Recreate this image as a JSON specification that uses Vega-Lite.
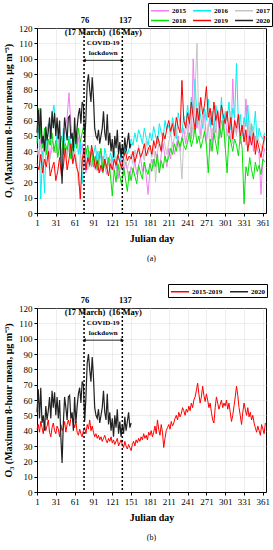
{
"$schema": "https://vega.github.io/schema/vega-lite/v6.json",
"padding": {"left": 3, "top": 2, "right": 0, "bottom": 0},
"spacing": 19,
"config": {
 "font": "Liberation Serif",
 "view": {"stroke": "black", "strokeWidth": 1},
 "axis": {"labelFont": "Liberation Serif", "labelFontSize": 9, "labelColor": "black", "labelOverlap": false, "labelFlush": false, "tickCount": 20, "titleFont": "Liberation Serif", "titleFontSize": 10, "titleFontWeight": "bold", "titleColor": "black", "domainColor": "black", "tickColor": "black", "tickSize": 3, "gridColor": "#c8c8c8", "gridDash": [1, 1], "gridWidth": 0.6},
 "title": {"font": "Liberation Serif", "fontSize": 8, "fontWeight": "normal", "color": "black", "orient": "bottom", "offset": 12},
 "legend": {"title": null, "orient": "none", "direction": "horizontal", "symbolType": "M-1,0H3", "symbolSize": 81, "symbolStrokeWidth": 1.5, "labelOffset": 11, "labelFont": "Liberation Serif", "labelFontSize": 7, "labelFontWeight": "bold", "labelColor": "black", "strokeColor": "black", "fillColor": "white", "padding": 2, "columnPadding": 4, "rowPadding": 1}
},
"datasets": {
 "lock": [{"day": 76, "label": "76\n(17 March)"}, {"day": 137, "label": "137\n(16 May)"}],
 "span": [{"start": 76, "end": 137, "label": "COVID-19\nlockdown"}],
 "years": [
{"day":1,"2015":42,"2016":48,"2017":40,"2018":45,"2019":32},
{"day":4,"2015":38,"2016":55,"2017":36,"2018":68,"2019":28},
{"day":7,"2015":48,"2016":9,"2017":45,"2018":50,"2019":38},
{"day":10,"2015":35,"2016":40,"2017":33,"2018":42,"2019":26},
{"day":13,"2015":45,"2016":13,"2017":42,"2018":55,"2019":35},
{"day":16,"2015":52,"2016":50,"2017":38,"2018":38,"2019":30},
{"day":19,"2015":40,"2016":58,"2017":47,"2018":48,"2019":40},
{"day":22,"2015":36,"2016":44,"2017":35,"2018":44,"2019":24},
{"day":25,"2015":47,"2016":62,"2017":43,"2018":52,"2019":29},
{"day":28,"2015":43,"2016":70,"2017":39,"2018":40,"2019":33},
{"day":31,"2015":39,"2016":52,"2017":44,"2018":47,"2019":21},
{"day":34,"2015":50,"2016":40,"2017":37,"2018":36,"2019":27},
{"day":37,"2015":44,"2016":48,"2017":49,"2018":43,"2019":36},
{"day":40,"2015":36,"2016":35,"2017":34,"2018":50,"2019":24},
{"day":43,"2015":48,"2016":55,"2017":41,"2018":38,"2019":30},
{"day":46,"2015":55,"2016":42,"2017":46,"2018":45,"2019":42},
{"day":49,"2015":62,"2016":38,"2017":36,"2018":41,"2019":28},
{"day":52,"2015":78,"2016":50,"2017":43,"2018":48,"2019":35},
{"day":55,"2015":58,"2016":45,"2017":38,"2018":35,"2019":45},
{"day":58,"2015":46,"2016":36,"2017":32,"2018":44,"2019":32},
{"day":61,"2015":52,"2016":44,"2017":41,"2018":50,"2019":38},
{"day":64,"2015":44,"2016":52,"2017":35,"2018":42,"2019":30},
{"day":67,"2015":49,"2016":38,"2017":18,"2018":55,"2019":26},
{"day":70,"2015":38,"2016":47,"2017":38,"2018":46,"2019":9},
{"day":73,"2015":45,"2016":19,"2017":30,"2018":52,"2019":34},
{"day":76,"2015":34,"2016":36,"2017":42,"2018":58,"2019":42},
{"day":79,"2015":26,"2016":42,"2017":34,"2018":38,"2019":28},
{"day":82,"2015":38,"2016":33,"2017":28,"2018":44,"2019":36},
{"day":85,"2015":30,"2016":40,"2017":37,"2018":33,"2019":31},
{"day":88,"2015":42,"2016":30,"2017":33,"2018":40,"2019":44},
{"day":91,"2015":35,"2016":38,"2017":30,"2018":30,"2019":37},
{"day":94,"2015":28,"2016":44,"2017":36,"2018":37,"2019":29},
{"day":97,"2015":40,"2016":32,"2017":27,"2018":28,"2019":34},
{"day":100,"2015":33,"2016":40,"2017":34,"2018":35,"2019":26},
{"day":103,"2015":27,"2016":35,"2017":40,"2018":42,"2019":31},
{"day":106,"2015":37,"2016":28,"2017":29,"2018":26,"2019":27},
{"day":109,"2015":31,"2016":42,"2017":33,"2018":33,"2019":35},
{"day":112,"2015":25,"2016":36,"2017":38,"2018":29,"2019":30},
{"day":115,"2015":34,"2016":31,"2017":31,"2018":36,"2019":24},
{"day":118,"2015":29,"2016":39,"2017":35,"2018":25,"2019":32},
{"day":121,"2015":36,"2016":34,"2017":28,"2018":11,"2019":28},
{"day":124,"2015":27,"2016":40,"2017":33,"2018":28,"2019":35},
{"day":127,"2015":32,"2016":30,"2017":37,"2018":20,"2019":31},
{"day":130,"2015":22,"2016":37,"2017":30,"2018":32,"2019":38},
{"day":133,"2015":30,"2016":33,"2017":26,"2018":24,"2019":33},
{"day":136,"2015":38,"2016":42,"2017":34,"2018":18,"2019":29},
{"day":139,"2015":24,"2016":36,"2017":31,"2018":30,"2019":36},
{"day":142,"2015":33,"2016":45,"2017":36,"2018":22,"2019":40},
{"day":145,"2015":28,"2016":38,"2017":29,"2018":14,"2019":34},
{"day":148,"2015":21,"2016":42,"2017":33,"2018":27,"2019":37},
{"day":151,"2015":30,"2016":48,"2017":38,"2018":21,"2019":35},
{"day":154,"2015":26,"2016":44,"2017":32,"2018":29,"2019":40},
{"day":157,"2015":34,"2016":52,"2017":41,"2018":24,"2019":33},
{"day":160,"2015":25,"2016":46,"2017":35,"2018":19,"2019":38},
{"day":163,"2015":31,"2016":54,"2017":44,"2018":31,"2019":42},
{"day":166,"2015":36,"2016":50,"2017":37,"2018":26,"2019":36},
{"day":169,"2015":27,"2016":45,"2017":40,"2018":22,"2019":39},
{"day":172,"2015":33,"2016":55,"2017":34,"2018":33,"2019":45},
{"day":175,"2015":24,"2016":49,"2017":47,"2018":28,"2019":37},
{"day":178,"2015":12,"2016":44,"2017":38,"2018":25,"2019":41},
{"day":181,"2015":28,"2016":52,"2017":42,"2018":32,"2019":44},
{"day":184,"2015":35,"2016":47,"2017":36,"2018":27,"2019":38},
{"day":187,"2015":30,"2016":56,"2017":45,"2018":35,"2019":47},
{"day":190,"2015":40,"2016":50,"2017":20,"2018":30,"2019":42},
{"day":193,"2015":33,"2016":45,"2017":39,"2018":38,"2019":50},
{"day":196,"2015":26,"2016":58,"2017":47,"2018":26,"2019":45},
{"day":199,"2015":38,"2016":52,"2017":41,"2018":34,"2019":40},
{"day":202,"2015":45,"2016":48,"2017":50,"2018":29,"2019":52},
{"day":205,"2015":36,"2016":60,"2017":44,"2018":37,"2019":48},
{"day":208,"2015":30,"2016":54,"2017":38,"2018":33,"2019":55},
{"day":211,"2015":42,"2016":57,"2017":46,"2018":36,"2019":60},
{"day":214,"2015":35,"2016":50,"2017":52,"2018":42,"2019":53},
{"day":217,"2015":46,"2016":62,"2017":43,"2018":38,"2019":58},
{"day":220,"2015":38,"2016":55,"2017":49,"2018":45,"2019":50},
{"day":223,"2015":44,"2016":48,"2017":55,"2018":40,"2019":62},
{"day":226,"2015":50,"2016":65,"2017":45,"2018":47,"2019":56},
{"day":229,"2015":40,"2016":58,"2017":40,"2018":43,"2019":52},
{"day":232,"2015":48,"2016":52,"2017":22,"2018":49,"2019":86},
{"day":235,"2015":55,"2016":63,"2017":48,"2018":44,"2019":60},
{"day":238,"2015":45,"2016":56,"2017":53,"2018":41,"2019":55},
{"day":241,"2015":52,"2016":70,"2017":58,"2018":46,"2019":65},
{"day":244,"2015":60,"2016":60,"2017":46,"2018":52,"2019":58},
{"day":247,"2015":48,"2016":75,"2017":62,"2018":43,"2019":72},
{"day":250,"2015":100,"2016":64,"2017":50,"2018":48,"2019":62},
{"day":253,"2015":62,"2016":87,"2017":80,"2018":55,"2019":54},
{"day":256,"2015":55,"2016":58,"2017":110,"2018":45,"2019":68},
{"day":259,"2015":66,"2016":72,"2017":55,"2018":50,"2019":60},
{"day":262,"2015":50,"2016":62,"2017":48,"2018":42,"2019":75},
{"day":265,"2015":58,"2016":55,"2017":64,"2018":47,"2019":64},
{"day":268,"2015":64,"2016":68,"2017":52,"2018":53,"2019":70},
{"day":271,"2015":47,"2016":60,"2017":45,"2018":44,"2019":82},
{"day":274,"2015":56,"2016":74,"2017":58,"2018":26,"2019":62},
{"day":277,"2015":62,"2016":56,"2017":40,"2018":48,"2019":68},
{"day":280,"2015":44,"2016":66,"2017":55,"2018":40,"2019":57},
{"day":283,"2015":58,"2016":52,"2017":48,"2018":52,"2019":72},
{"day":286,"2015":52,"2016":70,"2017":62,"2018":45,"2019":60},
{"day":289,"2015":67,"2016":62,"2017":44,"2018":38,"2019":66},
{"day":292,"2015":48,"2016":58,"2017":56,"2018":56,"2019":55},
{"day":295,"2015":60,"2016":75,"2017":50,"2018":49,"2019":70},
{"day":298,"2015":54,"2016":55,"2017":60,"2018":60,"2019":63},
{"day":301,"2015":64,"2016":66,"2017":42,"2018":43,"2019":58},
{"day":304,"2015":50,"2016":60,"2017":54,"2018":26,"2019":66},
{"day":307,"2015":56,"2016":72,"2017":48,"2018":50,"2019":52},
{"day":310,"2015":46,"2016":54,"2017":66,"2018":46,"2019":62},
{"day":313,"2015":87,"2016":68,"2017":45,"2018":40,"2019":48},
{"day":316,"2015":58,"2016":62,"2017":56,"2018":48,"2019":60},
{"day":319,"2015":52,"2016":97,"2017":50,"2018":44,"2019":55},
{"day":322,"2015":61,"2016":58,"2017":62,"2018":37,"2019":64},
{"day":325,"2015":45,"2016":64,"2017":47,"2018":50,"2019":50},
{"day":328,"2015":55,"2016":50,"2017":53,"2018":42,"2019":57},
{"day":331,"2015":48,"2016":62,"2017":58,"2018":6,"2019":46},
{"day":334,"2015":74,"2016":56,"2017":44,"2018":30,"2019":54},
{"day":337,"2015":52,"2016":70,"2017":52,"2018":24,"2019":40},
{"day":340,"2015":44,"2016":48,"2017":60,"2018":36,"2019":50},
{"day":343,"2015":56,"2016":58,"2017":48,"2018":28,"2019":44},
{"day":346,"2015":40,"2016":52,"2017":56,"2018":22,"2019":52},
{"day":349,"2015":50,"2016":66,"2017":42,"2018":33,"2019":38},
{"day":352,"2015":42,"2016":45,"2017":50,"2018":27,"2019":47},
{"day":355,"2015":38,"2016":55,"2017":46,"2018":31,"2019":42},
{"day":358,"2015":12,"2016":50,"2017":44,"2018":25,"2019":36},
{"day":361,"2015":35,"2016":48,"2017":40,"2018":35,"2019":44},
{"day":364,"2015":42,"2016":52,"2017":48,"2018":33,"2019":50}
 ],
 "y2020": [
{"day":1,"o3":52},{"day":3,"o3":67},{"day":5,"o3":48},{"day":7,"o3":68},{"day":9,"o3":45},{"day":11,"o3":50},{"day":13,"o3":40},{"day":15,"o3":56},{"day":17,"o3":47},{"day":19,"o3":53},
{"day":21,"o3":62},{"day":23,"o3":48},{"day":25,"o3":66},{"day":27,"o3":55},{"day":29,"o3":65},{"day":31,"o3":50},{"day":33,"o3":62},{"day":35,"o3":48},{"day":37,"o3":60},{"day":39,"o3":36},
{"day":41,"o3":19},{"day":43,"o3":45},{"day":45,"o3":62},{"day":47,"o3":55},{"day":49,"o3":47},{"day":51,"o3":62},{"day":53,"o3":63},{"day":55,"o3":48},{"day":57,"o3":52},{"day":59,"o3":40},
{"day":61,"o3":62},{"day":63,"o3":45},{"day":65,"o3":56},{"day":67,"o3":64},{"day":69,"o3":68},{"day":71,"o3":58},{"day":73,"o3":72},{"day":75,"o3":70},{"day":77,"o3":46},{"day":79,"o3":62},
{"day":81,"o3":84},{"day":83,"o3":90},{"day":85,"o3":80},{"day":87,"o3":72},{"day":89,"o3":88},{"day":91,"o3":75},{"day":93,"o3":55},{"day":95,"o3":50},{"day":97,"o3":48},{"day":99,"o3":54},
{"day":101,"o3":45},{"day":103,"o3":50},{"day":105,"o3":55},{"day":107,"o3":66},{"day":109,"o3":52},{"day":111,"o3":47},{"day":113,"o3":64},{"day":115,"o3":44},{"day":117,"o3":52},{"day":119,"o3":40},
{"day":121,"o3":48},{"day":123,"o3":36},{"day":125,"o3":50},{"day":127,"o3":42},{"day":129,"o3":54},{"day":131,"o3":38},{"day":133,"o3":46},{"day":135,"o3":36},{"day":137,"o3":44},{"day":139,"o3":38},
{"day":141,"o3":49},{"day":143,"o3":40},{"day":145,"o3":46},{"day":147,"o3":52},{"day":149,"o3":42},{"day":151,"o3":45}
 ],
 "avg": [
{"day":1,"o3":41},{"day":3,"o3":44},{"day":5,"o3":39},{"day":7,"o3":46},{"day":9,"o3":42},{"day":11,"o3":38},{"day":13,"o3":45},{"day":15,"o3":40},{"day":17,"o3":43},{"day":19,"o3":47},{"day":21,"o3":39},{"day":23,"o3":36},{"day":25,"o3":42},{"day":27,"o3":45},{"day":29,"o3":40},
{"day":31,"o3":38},{"day":33,"o3":43},{"day":35,"o3":41},{"day":37,"o3":36},{"day":39,"o3":44},{"day":41,"o3":40},{"day":43,"o3":42},{"day":45,"o3":46},{"day":47,"o3":39},{"day":49,"o3":44},{"day":51,"o3":47},{"day":53,"o3":43},{"day":55,"o3":48},{"day":57,"o3":50},{"day":59,"o3":45},
{"day":61,"o3":42},{"day":63,"o3":46},{"day":65,"o3":39},{"day":67,"o3":37},{"day":69,"o3":41},{"day":71,"o3":38},{"day":73,"o3":36},{"day":75,"o3":40},{"day":77,"o3":42},{"day":79,"o3":38},{"day":81,"o3":44},{"day":83,"o3":41},{"day":85,"o3":47},{"day":87,"o3":40},{"day":89,"o3":43},
{"day":91,"o3":39},{"day":93,"o3":36},{"day":95,"o3":38},{"day":97,"o3":35},{"day":99,"o3":37},{"day":101,"o3":34},{"day":103,"o3":36},{"day":105,"o3":33},{"day":107,"o3":35},{"day":109,"o3":37},{"day":111,"o3":34},{"day":113,"o3":32},{"day":115,"o3":35},{"day":117,"o3":33},{"day":119,"o3":36},
{"day":121,"o3":32},{"day":123,"o3":34},{"day":125,"o3":31},{"day":127,"o3":33},{"day":129,"o3":35},{"day":131,"o3":30},{"day":133,"o3":32},{"day":135,"o3":34},{"day":137,"o3":31},{"day":139,"o3":29},{"day":141,"o3":33},{"day":143,"o3":30},{"day":145,"o3":28},{"day":147,"o3":31},{"day":149,"o3":29},
{"day":151,"o3":27},{"day":153,"o3":31},{"day":155,"o3":33},{"day":157,"o3":30},{"day":159,"o3":34},{"day":161,"o3":32},{"day":163,"o3":35},{"day":165,"o3":33},{"day":167,"o3":36},{"day":169,"o3":34},{"day":171,"o3":38},{"day":173,"o3":35},{"day":175,"o3":37},{"day":177,"o3":34},{"day":179,"o3":39},
{"day":181,"o3":37},{"day":183,"o3":40},{"day":185,"o3":36},{"day":187,"o3":39},{"day":189,"o3":43},{"day":191,"o3":38},{"day":193,"o3":47},{"day":195,"o3":41},{"day":197,"o3":37},{"day":199,"o3":44},{"day":201,"o3":39},{"day":203,"o3":29},{"day":205,"o3":35},{"day":207,"o3":40},{"day":209,"o3":42},
{"day":211,"o3":44},{"day":213,"o3":41},{"day":215,"o3":46},{"day":217,"o3":43},{"day":219,"o3":45},{"day":221,"o3":48},{"day":223,"o3":50},{"day":225,"o3":47},{"day":227,"o3":52},{"day":229,"o3":49},{"day":231,"o3":51},{"day":233,"o3":55},{"day":235,"o3":53},{"day":237,"o3":50},{"day":239,"o3":54},
{"day":241,"o3":52},{"day":243,"o3":56},{"day":245,"o3":53},{"day":247,"o3":58},{"day":249,"o3":55},{"day":251,"o3":60},{"day":253,"o3":62},{"day":255,"o3":66},{"day":257,"o3":71},{"day":259,"o3":64},{"day":261,"o3":58},{"day":263,"o3":62},{"day":265,"o3":69},{"day":267,"o3":63},{"day":269,"o3":59},
{"day":271,"o3":64},{"day":273,"o3":60},{"day":275,"o3":55},{"day":277,"o3":58},{"day":279,"o3":52},{"day":281,"o3":47},{"day":283,"o3":45},{"day":285,"o3":55},{"day":287,"o3":62},{"day":289,"o3":58},{"day":291,"o3":54},{"day":293,"o3":57},{"day":295,"o3":60},{"day":297,"o3":55},{"day":299,"o3":58},
{"day":301,"o3":56},{"day":303,"o3":60},{"day":305,"o3":54},{"day":307,"o3":58},{"day":309,"o3":52},{"day":311,"o3":46},{"day":313,"o3":50},{"day":315,"o3":56},{"day":317,"o3":62},{"day":319,"o3":69},{"day":321,"o3":63},{"day":323,"o3":55},{"day":325,"o3":50},{"day":327,"o3":44},{"day":329,"o3":52},
{"day":331,"o3":58},{"day":333,"o3":54},{"day":335,"o3":50},{"day":337,"o3":55},{"day":339,"o3":49},{"day":341,"o3":52},{"day":343,"o3":47},{"day":345,"o3":50},{"day":347,"o3":45},{"day":349,"o3":42},{"day":351,"o3":39},{"day":353,"o3":43},{"day":355,"o3":40},{"day":357,"o3":37},{"day":359,"o3":44},
{"day":361,"o3":41},{"day":363,"o3":38},{"day":365,"o3":45}
 ]
},
"vconcat": [
 {
  "width": 229, "height": 185,
  "title": {"text": "(a)"},
  "layer": [
   {"data": {"name": "years"},
    "transform": [{"fold": ["2015", "2016", "2017", "2018", "2019"], "as": ["year", "o3"]}],
    "mark": {"type": "line", "strokeWidth": 1},
    "encoding": {
     "x": {"field": "day", "type": "quantitative", "scale": {"domain": [1, 366], "nice": false, "zero": false}, "axis": {"title": "Julian day", "values": [1, 31, 61, 91, 121, 151, 181, 211, 241, 271, 301, 331, 361], "tickCount": 20, "grid": true, "labelFlush": false, "labelOverlap": false, "labelPadding": 2, "titlePadding": 6}},
     "y": {"field": "o3", "type": "quantitative", "scale": {"domain": [0, 120], "nice": false}, "axis": {"title": "O₃ (Maximum 8-hour mean, μg m⁻³)", "values": [0, 10, 20, 30, 40, 50, 60, 70, 80, 90, 100, 110, 120], "tickCount": 20, "grid": true, "labelOverlap": false, "labelPadding": 2, "titlePadding": 5}},
     "color": {"field": "year", "type": "nominal", "scale": {"domain": ["2015", "2016", "2017", "2018", "2019", "2020"], "range": ["#f07ef0", "#00f0f0", "#c4c4c4", "#00e400", "#ff0000", "#222222"]}, "legend": {"columns": 3, "legendX": 111, "legendY": -25}}
    }},
   {"data": {"name": "y2020"},
    "mark": {"type": "line", "strokeWidth": 1.2},
    "encoding": {"x": {"field": "day", "type": "quantitative"}, "y": {"field": "o3", "type": "quantitative"}, "color": {"datum": "2020", "type": "nominal"}}},
   {"data": {"name": "lock"},
    "mark": {"type": "rule", "color": "black", "strokeDash": [2, 2], "strokeWidth": 1.5},
    "encoding": {"x": {"field": "day", "type": "quantitative"}}},
   {"data": {"name": "lock"},
    "mark": {"type": "text", "lineBreak": "\n", "baseline": "bottom", "align": "center", "dy": -3, "dx": {"expr": "datum.day > 100 ? 3 : 1"}, "fontSize": 8.5, "fontWeight": "bold", "lineHeight": 12, "color": "black"},
    "encoding": {"x": {"field": "day", "type": "quantitative"}, "y": {"datum": 120, "type": "quantitative"}, "text": {"field": "label"}}},
   {"data": {"name": "span"},
    "mark": {"type": "text", "lineBreak": "\n", "baseline": "middle", "align": "center", "fontSize": 7, "fontWeight": "bold", "lineHeight": 10, "color": "black"},
    "encoding": {"x": {"datum": 106.5, "type": "quantitative"}, "y": {"datum": 110, "type": "quantitative"}, "text": {"field": "label"}}},
   {"data": {"name": "span"},
    "mark": {"type": "rule", "color": "black", "strokeWidth": 0.8},
    "encoding": {"x": {"field": "start", "type": "quantitative"}, "x2": {"field": "end"}, "y": {"datum": 99, "type": "quantitative"}}},
   {"data": {"name": "span"},
    "mark": {"type": "point", "shape": "triangle-left", "filled": true, "color": "black", "size": 14, "opacity": 1, "dx": 2},
    "encoding": {"x": {"field": "start", "type": "quantitative"}, "y": {"datum": 99, "type": "quantitative"}}},
   {"data": {"name": "span"},
    "mark": {"type": "point", "shape": "triangle-right", "filled": true, "color": "black", "size": 14, "opacity": 1, "dx": -2},
    "encoding": {"x": {"field": "end", "type": "quantitative"}, "y": {"datum": 99, "type": "quantitative"}}}
  ]
 },
 {
  "width": 229, "height": 184,
  "title": {"text": "(b)"},
  "layer": [
   {"data": {"name": "avg"},
    "mark": {"type": "line", "strokeWidth": 1},
    "encoding": {
     "x": {"field": "day", "type": "quantitative", "scale": {"domain": [1, 366], "nice": false, "zero": false}, "axis": {"title": "Julian day", "values": [1, 31, 61, 91, 121, 151, 181, 211, 241, 271, 301, 331, 361], "tickCount": 20, "grid": true, "labelFlush": false, "labelOverlap": false, "labelPadding": 2, "titlePadding": 6}},
     "y": {"field": "o3", "type": "quantitative", "scale": {"domain": [0, 120], "nice": false}, "axis": {"title": "O₃ (Maximum 8-hour mean, μg m⁻³)", "values": [0, 10, 20, 30, 40, 50, 60, 70, 80, 90, 100, 110, 120], "tickCount": 20, "grid": true, "labelOverlap": false, "labelPadding": 2, "titlePadding": 5}},
     "color": {"datum": "2015-2019", "type": "nominal", "scale": {"domain": ["2015-2019", "2020"], "range": ["#ff0000", "#222222"]}, "legend": {"columns": 2, "legendX": 131, "legendY": -24}}
    }},
   {"data": {"name": "y2020"},
    "mark": {"type": "line", "strokeWidth": 1.2},
    "encoding": {"x": {"field": "day", "type": "quantitative"}, "y": {"field": "o3", "type": "quantitative"}, "color": {"datum": "2020", "type": "nominal"}}},
   {"data": {"name": "lock"},
    "mark": {"type": "rule", "color": "black", "strokeDash": [2, 2], "strokeWidth": 1.5},
    "encoding": {"x": {"field": "day", "type": "quantitative"}}},
   {"data": {"name": "lock"},
    "mark": {"type": "text", "lineBreak": "\n", "baseline": "bottom", "align": "center", "dy": -3, "dx": {"expr": "datum.day > 100 ? 3 : 1"}, "fontSize": 8.5, "fontWeight": "bold", "lineHeight": 12, "color": "black"},
    "encoding": {"x": {"field": "day", "type": "quantitative"}, "y": {"datum": 120, "type": "quantitative"}, "text": {"field": "label"}}},
   {"data": {"name": "span"},
    "mark": {"type": "text", "lineBreak": "\n", "baseline": "middle", "align": "center", "fontSize": 7, "fontWeight": "bold", "lineHeight": 10, "color": "black"},
    "encoding": {"x": {"datum": 106.5, "type": "quantitative"}, "y": {"datum": 110, "type": "quantitative"}, "text": {"field": "label"}}},
   {"data": {"name": "span"},
    "mark": {"type": "rule", "color": "black", "strokeWidth": 0.8},
    "encoding": {"x": {"field": "start", "type": "quantitative"}, "x2": {"field": "end"}, "y": {"datum": 99, "type": "quantitative"}}},
   {"data": {"name": "span"},
    "mark": {"type": "point", "shape": "triangle-left", "filled": true, "color": "black", "size": 14, "opacity": 1, "dx": 2},
    "encoding": {"x": {"field": "start", "type": "quantitative"}, "y": {"datum": 99, "type": "quantitative"}}},
   {"data": {"name": "span"},
    "mark": {"type": "point", "shape": "triangle-right", "filled": true, "color": "black", "size": 14, "opacity": 1, "dx": -2},
    "encoding": {"x": {"field": "end", "type": "quantitative"}, "y": {"datum": 99, "type": "quantitative"}}}
  ]
 }
],
"resolve": {"scale": {"color": "independent"}, "legend": {"color": "independent"}}
}
